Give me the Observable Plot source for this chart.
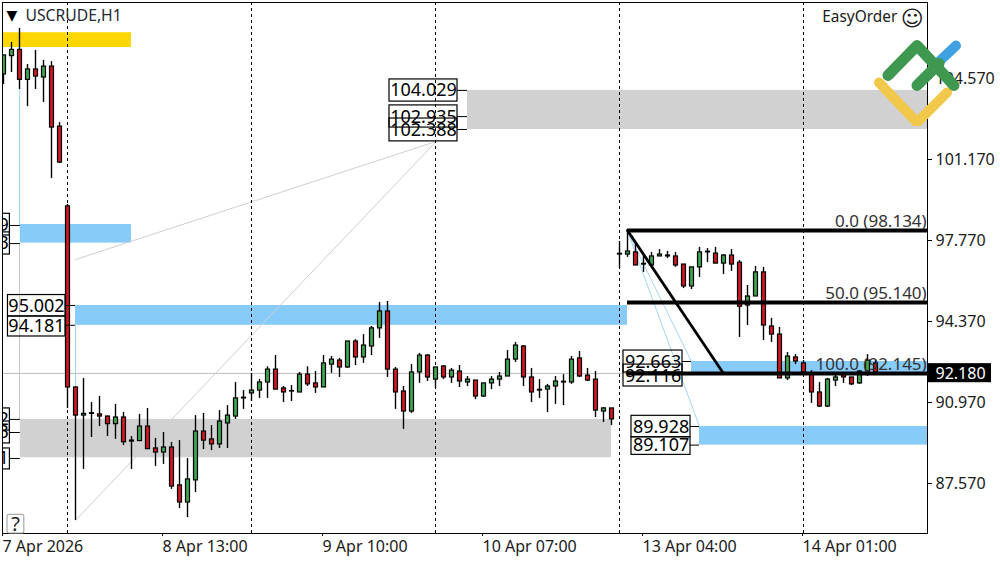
<!DOCTYPE html>
<html><head><meta charset="utf-8">
<style>html,body{margin:0;padding:0;background:#fff}svg{display:block}</style>
<script src="https://cdn.jsdelivr.net/npm/d3@7"></script>
<script src="https://cdn.jsdelivr.net/npm/@observablehq/plot@0.6"></script>
</head><body><div id="c"></div>
<script>
const opens=[104.74,105.51,105.77,104.51,104.95,104.61,105.07,102.55,99.20,91.60,90.42,90.49,90.47,90.38,90.06,90.34,89.33,89.35,89.96,89.04,88.87,89.08,87.49,86.77,87.70,89.75,89.42,89.21,90.09,90.38,91.14,91.35,91.47,91.81,92.35,91.56,91.43,91.39,92.14,91.77,91.60,92.56,92.73,92.44,93.53,92.86,93.32,94.08,94.79,92.35,91.43,90.59,92.23,92.94,91.93,92.48,92.02,92.27,91.81,91.89,91.22,91.77,91.93,92.06,92.77,93.32,92.02,91.47,91.51,91.64,91.81,91.81,92.82,92.10,91.93,90.59,90.72,97.18,97.18,97.27,96.76,96.72,97.10,97.14,97.10,96.76,95.84,96.64,97.27,97.22,96.80,97.14,96.84,95.04,95.42,96.43,94.16,93.82,91.98,92.86,92.61,92.19,91.39,90.80,91.89,92.14,92.02,91.77,92.27,92.61];
const highs=[105.54,106.08,106.67,105.16,105.75,105.33,105.28,102.72,99.28,91.62,91.98,90.97,91.22,90.40,90.89,90.55,89.54,90.47,90.72,89.46,89.71,89.29,89.37,88.62,90.42,90.51,90.00,90.63,90.84,91.81,91.47,92.19,91.93,92.47,92.94,91.64,91.68,92.23,92.47,92.27,92.94,92.90,92.82,93.53,93.61,93.82,94.16,95.17,95.21,92.44,91.64,92.56,93.03,92.98,92.44,92.52,92.40,92.52,92.06,91.89,91.77,92.06,92.23,93.15,93.49,93.36,92.40,91.93,91.73,92.06,92.14,92.90,93.11,92.40,92.27,90.76,90.72,97.73,98.19,97.64,97.14,97.27,97.39,97.31,97.27,96.76,96.64,97.48,97.43,97.48,97.18,97.39,96.93,95.88,96.68,96.64,94.50,94.12,93.07,92.98,92.73,92.31,91.81,91.98,92.19,92.23,92.02,92.31,92.98,92.73];
const lows=[104.32,104.82,104.11,103.39,104.11,103.56,100.37,101.00,90.72,86.02,88.16,89.50,89.96,89.54,89.42,89.16,88.16,89.33,89.01,88.28,88.37,87.32,86.52,86.14,87.19,88.99,88.95,89.04,89.04,90.26,90.68,91.01,91.14,91.14,91.51,90.97,91.01,91.39,91.64,91.35,91.60,92.19,92.02,92.40,92.52,92.61,92.94,93.66,92.02,90.68,89.84,90.51,91.77,91.85,91.56,91.93,91.77,91.60,91.64,91.09,91.18,91.51,91.64,92.06,92.65,91.64,90.97,91.14,90.55,90.89,90.84,91.73,92.02,91.85,90.34,90.13,90.00,96.59,97.06,96.72,96.43,96.72,97.10,97.01,96.64,95.75,95.71,96.22,96.84,96.80,96.34,96.47,93.70,94.20,95.42,93.57,93.49,91.98,91.89,92.56,92.14,90.93,90.76,90.76,91.64,91.77,91.68,91.73,92.06,92.19];
const closes=[105.54,105.77,104.51,104.95,104.65,105.07,102.51,101.04,91.60,90.42,90.49,90.52,90.38,90.06,90.34,89.30,89.37,89.96,89.01,88.87,89.08,87.44,86.77,87.74,89.75,89.37,89.21,90.17,90.42,91.14,91.17,91.47,91.81,92.35,91.51,91.39,91.45,92.14,91.73,91.60,92.61,92.77,92.44,93.53,92.86,93.36,94.08,94.79,92.35,91.39,90.59,92.23,92.94,92.02,92.44,92.02,92.31,91.85,91.93,91.22,91.77,91.93,92.06,92.77,93.36,92.02,91.39,91.50,91.64,91.85,91.84,92.77,92.06,91.89,90.63,90.72,90.26,97.21,97.31,96.72,96.79,97.10,97.18,97.10,96.72,95.84,96.64,97.27,97.30,96.80,97.14,96.76,94.99,95.42,96.43,94.20,93.82,91.98,92.90,92.69,92.23,91.39,90.80,91.93,92.02,92.02,91.73,92.27,92.73,92.23];
const bars=opens.map((o,i)=>({i,o,h:highs[i],l:lows[i],c:closes[i]}));

const zoneX1=[-0.125,2.1,9,2.1,58,86,87], zoneX2=[16,16,78,76,115.5,115.5,115.5];
const zoneTop=[106.49,98.44,95.04,90.26,104.07,92.69,89.96], zoneBottom=[105.87,97.66,94.21,88.65,102.43,92.19,89.18];
const zoneFill=["#ffd700","#87cbfa","#87cbfa","#d1d1d1","#d1d1d1","#87cbfa","#87cbfa"];
const zones=zoneX1.map((x1,k)=>({x1,x2:zoneX2[k],y1:zoneTop[k],y2:zoneBottom[k],f:zoneFill[k]}));

const fibX1=78, fibX2=115.5;
const fibLevels=[98.19,95.17,92.19];
const fibLabels=["0.0 (98.134)","50.0 (95.140)","100.0 (92.145)"];
const fibLabelY=[98.57,95.54,92.57];

const dashedBars=[8,31,54,77,100];
const xTickBars=[0,20,40,60,80,100];
const xTickText=["7 Apr 2026","8 Apr 13:00","9 Apr 10:00","10 Apr 07:00","13 Apr 04:00","14 Apr 01:00"];
const yTicks=[104.57,101.17,97.77,94.37,90.97,87.57];

const boxX1=[-0.125,-0.125,-0.125,-0.125,-0.125,0.56,0.56,48.25,48.25,48.25,77.5,77.5,78.5,78.5];
const boxX2=[0.8,0.8,0.8,0.8,0.8,7.75,7.75,56.75,56.75,56.75,84.875,84.875,85.875,85.875];
const boxTop=[98.89,98.11,90.72,90.17,89.04,95.48,94.58,104.53,103.44,102.89,93.15,92.56,90.41,89.51];
const boxBottom=[97.98,97.18,89.79,89.25,88.16,94.58,93.74,103.60,102.51,101.93,92.23,91.64,89.51,88.77];
const boxes=boxX1.map((x1,k)=>({x1,x2:boxX2[k],y1:boxTop[k],y2:boxBottom[k]}));
const sideText=["98.439","97.633","90.262","89.683","88.621"];
const sideY=[98.40,97.64,90.26,89.71,88.62];
const labelX=[4.125,4.125,52.5,52.5,52.5,81.2,81.2,82.2,82.2];
const labelY=[95.00,94.16,104.07,102.95,102.41,92.66,92.06,89.93,89.17];
const labelText=["95.002","94.181","104.029","102.935","102.388","92.663","92.116","89.928","89.107"];
const labels=labelText.map((t,k)=>({t,x:labelX[k],y:labelY[k]}));
const leaderX1=[0.8,0.8,0.8,0.8,0.8,7.75,7.75,56.75,56.75,56.75,84.875,84.875,85.875,85.875];
const leaderX2=[2.1,2.1,2.1,2.1,2.1,9,9,58,58,58,86,86,87,87];
const leaderY=[98.40,97.64,90.26,89.71,88.62,95.04,94.21,104.07,102.97,102.43,92.69,92.19,89.96,89.18];
const leaders=leaderX1.map((x,k)=>({x,x2:leaderX2[k],y:leaderY[k]}));

const thinGray=[[{x:9,y:96.97},{x:54.1,y:101.93}],[{x:9,y:86.02},{x:54.1,y:101.93}]];
const thinBlue=[[{x:78,y:98.15},{x:86,y:92.69}],[{x:78,y:98.15},{x:87,y:89.96}],[{x:9,y:94.21},{x:9,y:91.60}],[{x:2,y:105.87},{x:2,y:98.44}]];
const thinSoft=[{x:2,y:97.66},{x:2,y:90.26}];

const logoBlue=[{x:116.81,y:105.24},{x:119.06,y:105.95}];
const logoYellow=[{x:109.44,y:104.40},{x:114.19,y:102.72},{x:117.94,y:103.98}];
const logoGreenA=[{x:110.56,y:104.70},{x:114.19,y:105.95},{x:118.81,y:104.28}];
const logoGreenB=[{x:114.19,y:104.28},{x:116.94,y:105.20}];

const F='"Noto Sans",sans-serif';
const TC="#1a1a1a";
const line=(d,o)=>Plot.line(d,{x:"x",y:"y",...o});

const chart=Plot.plot({
  width:1000,height:562,marginLeft:2,marginRight:73,marginTop:2,marginBottom:29,
  style:{fontFamily:F,background:"#fff",color:"#000"},
  x:{type:"linear",domain:[-0.125,115.5],range:[2,927]},
  y:{type:"linear",domain:[85.47,107.76],range:[533,2]},
  marks:[
    Plot.rect(zones,{x1:"x1",x2:"x2",y1:"y1",y2:"y2",fill:d=>d.f}),
    ...thinGray.map(d=>line(d,{stroke:"#cfcfcf",strokeWidth:1})),
    line(thinSoft,{stroke:"#c6c6c6",strokeWidth:1}),
    ...thinBlue.map(d=>line(d,{stroke:"#a5d5f5",strokeWidth:1})),
    Plot.ruleY([92.19],{stroke:"#bdbdbd",strokeWidth:1}),
    Plot.ruleX(dashedBars,{stroke:"#000",strokeWidth:1,strokeDasharray:"3 3"}),
    Plot.ruleX(bars,{x:"i",y1:"l",y2:"h",stroke:"#000",strokeWidth:1.4,clip:"frame"}),
    Plot.rect(bars,{x1:d=>d.i-0.1875,x2:d=>d.i+0.3125,y1:"o",y2:"c",
      fill:d=>d.c>=d.o?"#3fa34d":"#c9181e",stroke:"#000",strokeWidth:1.2,clip:"frame"}),
    Plot.ruleY(fibLevels,{x1:fibX1,x2:fibX2,stroke:"#000",strokeWidth:4}),
    line([{x:78,y:98.19},{x:90,y:92.19}],{stroke:"#000",strokeWidth:2.8}),
    Plot.text(fibLabels,{x:115.4,y:(d,k)=>fibLabelY[k],text:d=>d,textAnchor:"end",fontSize:17,fill:"#333"}),
    Plot.rect(boxes,{x1:"x1",x2:"x2",y1:"y1",y2:"y2",fill:"none",stroke:"#000",strokeWidth:1.2,clip:"frame"}),
    Plot.ruleY(leaders,{x1:"x",x2:"x2",y:"y",stroke:"#000",strokeWidth:1}),
    Plot.text(sideText,{x:0.65,y:(d,k)=>sideY[k],text:d=>d,textAnchor:"end",fontSize:18,fill:"#000",clip:"frame"}),
    Plot.text(labels,{x:"x",y:"y",text:"t",textAnchor:"middle",fontSize:18,fill:"#000"}),
    Plot.frame({stroke:"#000",strokeWidth:1}),
    Plot.rect([0],{x1:0.5,x2:2.6,y1:86.25,y2:85.47,fill:"#fff",stroke:"#a9a9a9",strokeWidth:1.2,rx:2}),
    Plot.text(["?"],{x:1.5,y:85.86,fontSize:20,fill:"#222"}),
    Plot.text(["▼"],{x:1.05,y:107.2,fontSize:14,fill:"#000",fontFamily:"DejaVu Sans"}),
    Plot.text(["USCRUDE,H1"],{x:2.75,y:107.19,textAnchor:"start",fontSize:15.7,fill:"#1f2a33"}),
    Plot.text(["EasyOrder"],{x:102.35,y:107.14,textAnchor:"start",fontSize:15.4,fill:TC}),
    Plot.text(["☺"],{x:113.6,y:107.09,fontSize:22,fill:TC,fontFamily:"DejaVu Sans"}),
    Plot.axisX({anchor:"bottom",ticks:xTickBars,tickFormat:(d)=>xTickText[xTickBars.indexOf(d)],
      tickSize:3,textAnchor:"start",fontSize:16,tickPadding:4,dx:-1,label:null,fill:TC,stroke:"#000"}),
    Plot.axisY({anchor:"right",ticks:yTicks,tickFormat:d=>d.toFixed(3),tickSize:4,tickPadding:4,
      fontSize:16,label:null,fill:TC,stroke:"#000"}),
    Plot.rect([0],{x1:115.63,x2:123.5,y1:92.6,y2:91.8,fill:"#000"}),
    Plot.text(["92.180"],{x:116.5,y:92.18,text:d=>d,textAnchor:"start",fill:"#fff",fontSize:16}),
    line(logoBlue,{stroke:"#3fa1e2",strokeWidth:10,strokeLinecap:"round"}),
    line(logoYellow,{stroke:"#f2c84b",strokeWidth:10,strokeLinecap:"round",strokeLinejoin:"miter"}),
    line(logoGreenA,{stroke:"#3f984f",strokeWidth:11,strokeLinecap:"round",strokeLinejoin:"round"}),
    line(logoGreenB,{stroke:"#3f984f",strokeWidth:11,strokeLinecap:"round"})
  ]
});
document.getElementById("c").appendChild(chart);
</script></body></html>
